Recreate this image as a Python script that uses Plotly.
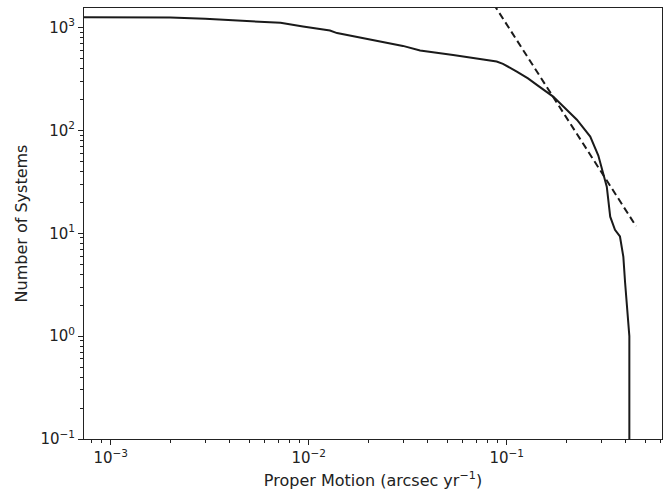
import plotly.graph_objects as go

# Cumulative number of systems vs proper motion
pm = [7.3e-4, 2.0e-3, 3.0e-3, 4.0e-3, 6.0e-3, 7.2e-3, 9.35e-3, 0.0128, 0.0139,
      0.0204, 0.0299, 0.0365, 0.0536, 0.0889, 0.0957, 0.1124, 0.128, 0.1419,
      0.160, 0.1715, 0.226, 0.264, 0.290, 0.305, 0.320, 0.333, 0.352, 0.373,
      0.388, 0.396, 0.403, 0.416, 0.416]
n_sys = [1260, 1255, 1216, 1181, 1144, 1111, 1023, 935, 883,
         759, 663, 598, 542, 467, 444, 373, 320, 277,
         232, 213, 127, 87, 57, 40, 28.4, 14.5, 10.8, 9.3,
         5.9, 3.3, 2.24, 1.0, 0.1]

# Power-law reference line (slope -3)
fit_x = [0.08, 0.45]
fit_y = [2090, 11.7]

xticks = [1e-3, 1e-2, 1e-1]
xticktext = ["10<sup>−3</sup>", "10<sup>−2</sup>", "10<sup>−1</sup>"]
yticks = [1e-1, 1e0, 1e1, 1e2, 1e3]
yticktext = ["10<sup>−1</sup>", "10<sup>0</sup>", "10<sup>1</sup>", "10<sup>2</sup>", "10<sup>3</sup>"]

def minor_vals(lo, hi):
    vals = []
    for e in range(lo, hi + 1):
        for m in range(2, 10):
            vals.append(m * 10.0 ** e)
    return vals

x_minor = minor_vals(-4, -1)
y_minor = minor_vals(-1, 3)

def axis_common(minor_ticks):
    return dict(showgrid=False, zeroline=False, showline=True, linecolor="#222",
                linewidth=1, mirror=True, ticks="outside", ticklen=5, tickwidth=1,
                tickcolor="#222",
                minor=dict(tickvals=minor_ticks, ticks="outside", ticklen=3, tickwidth=0.8,
                           tickcolor="#222", showgrid=False),
                tickfont=dict(family="DejaVu Sans", size=15, color="#222"))

fig = go.Figure()
fig.add_trace(go.Scatter(x=pm, y=n_sys, mode="lines",
                         line=dict(color="#1a1a1a", width=2), showlegend=False))
fig.add_trace(go.Scatter(x=fit_x, y=fit_y, mode="lines",
                         line=dict(color="#1a1a1a", width=2, dash="7px,4px"), showlegend=False))

fig.update_xaxes(type="log", range=[-3.135, -0.216], tickvals=xticks, ticktext=xticktext,
                 title=dict(text="Proper Motion (arcsec yr<sup>−1</sup>)",
                            font=dict(family="DejaVu Sans", size=16, color="#222"), standoff=8),
                 **axis_common(x_minor))
fig.update_yaxes(type="log", range=[-1, 3.19], tickvals=yticks, ticktext=yticktext,
                 title=dict(text="Number of Systems",
                            font=dict(family="DejaVu Sans", size=16, color="#222"), standoff=8),
                 **axis_common(y_minor))

fig.update_layout(width=671, height=495, margin=dict(l=84, r=9, t=8, b=56),
                  plot_bgcolor="white", paper_bgcolor="white")

fig.write_html("out.html")
